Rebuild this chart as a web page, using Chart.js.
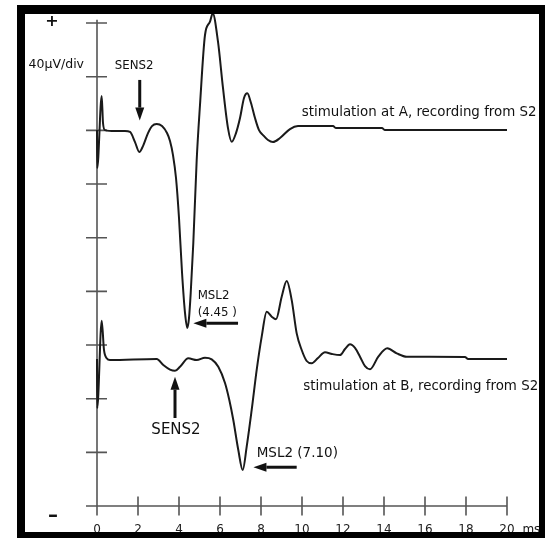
<!DOCTYPE html>
<html><head><meta charset="utf-8">
<script src="https://cdn.jsdelivr.net/npm/chart.js@4/dist/chart.umd.min.js"></script>
<style>html,body{margin:0;padding:0;background:#fff;}canvas{display:block;}</style>
</head><body>
<canvas id="c" width="545" height="538"></canvas>
<script>
// ---- data (time in ms, amplitude in µV on a common 40 µV/div grid) ----
const timeA = [0,0.01,0.229,0.293,0.39,0.878,1.366,1.61,1.854,2.063,2.244,2.488,2.683,2.912,3.171,3.415,3.561,3.707,3.854,4.0,4.146,4.293,4.405,4.488,4.571,4.698,4.863,5.024,5.268,5.512,5.644,5.902,6.146,6.39,6.571,6.78,6.976,7.171,7.332,7.512,7.707,7.902,8.098,8.341,8.585,8.927,9.415,9.805,11.512,11.66,13.9,14.05,20];
const traceA = [280.2,251.9,305.6,285.5,280.2,279.5,279.5,278.8,271.3,263.9,268.3,278.0,283.2,284.7,283.2,278.0,272.1,261.6,244.5,214.7,174.4,143.9,132.7,140.1,158.8,196.0,257.9,298.9,351.1,361.0,367.2,346.1,311.6,281.7,271.5,278.0,289.2,304.1,307.6,300.4,289.2,280.2,276.5,272.8,271.3,274.3,281.0,283.2,283.2,281.7,281.7,280.2,280.2];
const timeB = [0,0.01,0.229,0.341,0.473,0.634,2.912,3.234,3.561,3.805,4.049,4.454,4.863,5.268,5.595,5.917,6.244,6.454,6.649,6.893,7.107,7.302,7.546,7.79,8.034,8.278,8.522,8.732,9.01,9.254,9.498,9.741,9.985,10.229,10.473,10.78,11.122,11.463,11.854,12.098,12.341,12.585,12.829,13.073,13.317,13.722,14.161,14.62,15.107,17.95,18.1,20];
const traceB = [109.6,73.0,138.1,116.3,110.1,108.8,109.6,105.1,101.7,100.8,103.8,110.1,108.8,110.5,109.3,103.8,91.7,79.0,64.1,41.7,26.8,44.2,71.6,101.4,126.2,144.8,141.1,139.2,156.0,167.7,153.5,128.7,116.3,108.1,106.4,110.3,114.6,113.3,112.5,117.0,120.5,117.8,111.3,104.3,101.9,111.3,117.5,113.8,111.3,111.1,109.6,109.6];
const xTickValues = [0,2,4,6,8,10,12,14,16,18,20];
const yTickValues = [0,40,80,120,160,200,240,280,320,360];
const xUnit = 'ms';

// ---- annotations (data coordinates) ----
const notes = [
  {text:'+', t:-2.195, v:361.2, size:16, weight:'bold', align:'center'},
  {text:'–', t:-2.146, v:-7.5, size:20, weight:'bold', align:'center'},
  {text:'40µV/div', t:-0.634, v:328.7, size:12.5, align:'right'},
  {text:'SENS2', t:1.815, v:328.4, size:11.8, align:'center'},
  {text:'stimulation at A, recording from S2', t:9.985, v:293.0, size:13.4, align:'left'},
  {text:'MSL2', t:4.912, v:156.5, size:11.8, align:'left'},
  {text:'(4.45 )', t:4.912, v:144.1, size:11.8, align:'left'},
  {text:'stimulation at B, recording from S2', t:10.063, v:88.9, size:13.4, align:'left'},
  {text:'SENS2', t:3.854, v:56.6, size:15, align:'center'},
  {text:'MSL2 (7.10)', t:7.79, v:39.3, size:13.5, align:'left'},
  {text:xUnit, t:20.75, v:-17.5, size:12, align:'left'}
];
const arrows = [
  {t1:2.085, v1:317.6, t2:2.085, v2:287.3},
  {t1:6.88, v1:136.2, t2:4.70, v2:136.2},
  {t1:3.805, v1:65.6, t2:3.805, v2:96.4},
  {t1:9.741, v1:28.9, t2:7.63, v2:28.9}
];

const bgPlugin = {id:'bg', beforeDraw(c){const x=c.ctx;x.save();x.fillStyle='#fff';x.fillRect(0,0,c.width,c.height);x.restore();}};

const axesPlugin = {id:'axesCross', beforeDatasetsDraw(c){
  const ctx=c.ctx, xs=c.scales.x, ys=c.scales.y;
  const x0=xs.getPixelForValue(0), y0=ys.getPixelForValue(0);
  ctx.save();
  ctx.strokeStyle='#555'; ctx.lineWidth=1.6;
  ctx.beginPath();
  ctx.moveTo(x0, ys.getPixelForValue(362.5)); ctx.lineTo(x0, y0);
  ctx.moveTo(x0-11, y0); ctx.lineTo(xs.getPixelForValue(20), y0);
  ys.ticks.forEach(tk=>{const y=ys.getPixelForValue(tk.value); if(tk.value>0){ctx.moveTo(x0-11,y);ctx.lineTo(x0+10,y);}});
  xs.ticks.forEach(tk=>{const x=xs.getPixelForValue(tk.value); ctx.moveTo(x,y0-9.5);ctx.lineTo(x,y0+9.5);});
  ctx.stroke();
  ctx.restore();
}};

const notesPlugin = {id:'notesFrame', afterDraw(c){
  const ctx=c.ctx, xs=c.scales.x, ys=c.scales.y;
  ctx.save();
  ctx.fillStyle='#111';
  ctx.textBaseline='middle';
  notes.forEach(n=>{
    ctx.font=(n.weight||'normal')+' '+n.size+'px "DejaVu Sans"';
    ctx.textAlign=n.align;
    ctx.fillText(n.text, xs.getPixelForValue(n.t), ys.getPixelForValue(n.v));
  });
  arrows.forEach(a=>{
    const x1=xs.getPixelForValue(a.t1), y1=ys.getPixelForValue(a.v1);
    const x2=xs.getPixelForValue(a.t2), y2=ys.getPixelForValue(a.v2);
    const L=Math.hypot(x2-x1,y2-y1), ux=(x2-x1)/L, uy=(y2-y1)/L;
    const hl=13, hw=4.5;
    const bx=x2-ux*hl, by=y2-uy*hl;
    ctx.strokeStyle='#111'; ctx.lineWidth=3;
    ctx.beginPath(); ctx.moveTo(x1,y1); ctx.lineTo(bx,by); ctx.stroke();
    ctx.beginPath(); ctx.moveTo(x2,y2); ctx.lineTo(bx-uy*hw, by+ux*hw); ctx.lineTo(bx+uy*hw, by-ux*hw); ctx.closePath(); ctx.fill();
  });
  // frame
  ctx.fillStyle='#000';
  ctx.fillRect(17,5,528,9);
  ctx.fillRect(17,5,8,533);
  ctx.fillRect(539,5,6,533);
  ctx.fillRect(17,532,528,6);
  ctx.restore();
}};

const pts = (ts,vs)=>ts.map((t,i)=>({x:t,y:vs[i]}));

new Chart(document.getElementById('c'), {
  type:'line',
  data:{datasets:[
    {label:'stimulation at A, recording from S2', data:pts(timeA,traceA), borderColor:'#1a1a1a', borderWidth:2, pointRadius:0, fill:false, cubicInterpolationMode:'monotone'},
    {label:'stimulation at B, recording from S2', data:pts(timeB,traceB), borderColor:'#1a1a1a', borderWidth:2, pointRadius:0, fill:false, cubicInterpolationMode:'monotone'}
  ]},
  options:{
    responsive:false, animation:false, devicePixelRatio:1,
    layout:{padding:{left:35.5, right:7.25, top:13, bottom:0}},
    plugins:{legend:{display:false}, tooltip:{enabled:false}},
    scales:{
      x:{type:'linear', min:-3, max:21.5,
         afterBuildTicks:s=>{s.ticks=xTickValues.map(v=>({value:v}));},
         afterFit:s=>{s.height=32;},
         grid:{display:false, drawTicks:false}, border:{display:false},
         ticks:{padding:16.3, color:'#222', autoSkip:false, maxRotation:0, font:{family:'DejaVu Sans', size:12}, callback:v=>String(v)}},
      y:{type:'linear', min:0, max:367.5,
         afterBuildTicks:s=>{s.ticks=yTickValues.map(v=>({value:v}));},
         afterFit:s=>{s.width=0;},
         grid:{display:false, drawTicks:false}, border:{display:false},
         ticks:{display:false}}
    }
  },
  plugins:[bgPlugin, axesPlugin, notesPlugin]
});
</script>
</body></html>
